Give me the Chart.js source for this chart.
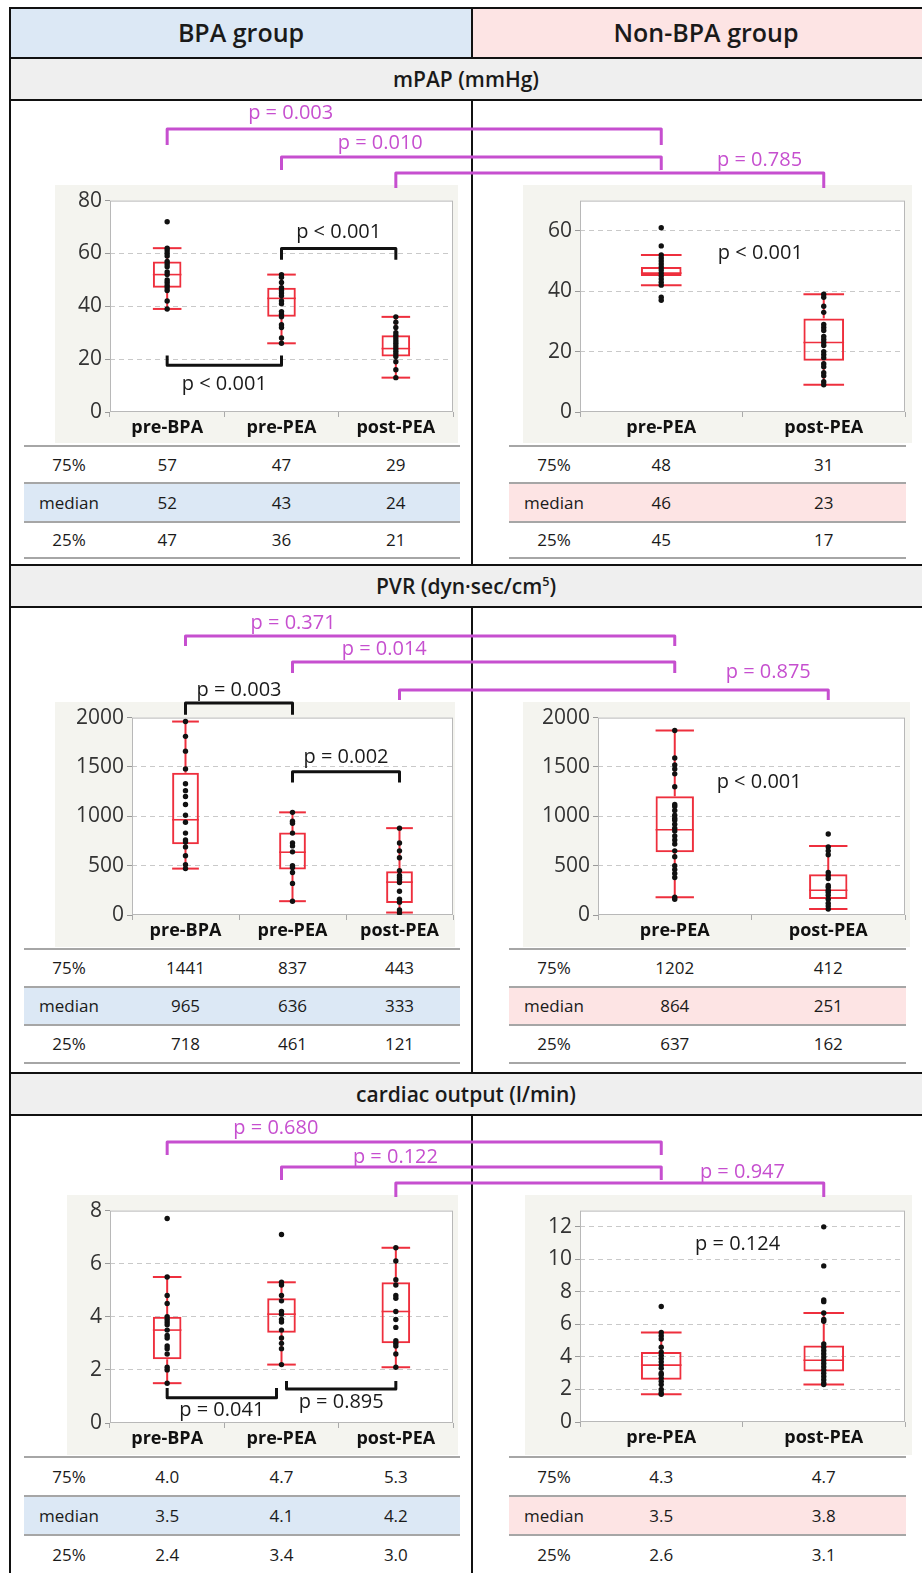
<!DOCTYPE html>
<html>
<head>
<meta charset="utf-8">
<script src="https://cdn.jsdelivr.net/npm/chart.js@4.4.1/dist/chart.umd.min.js"></script>
<style>
  body { margin: 0; width: 922px; height: 1573px; position: relative; overflow: hidden; background: #fff;
         font-family: "Open Sans", sans-serif; color: #1a1a1a; }
  sup { font-size: 0.6em; line-height: 0; }
</style>
</head>
<body>
<script>
// categories
const catBpa = ["pre-BPA", "pre-PEA", "post-PEA"];
const catNon = ["pre-PEA", "post-PEA"];
const rowLabels = ["75%", "median", "25%"];
const crossPairs = [[0, 0], [1, 0], [2, 1]];

// mPAP (mmHg)
const mpapBpaQ3 = [57, 47, 29];
const mpapBpaMed = [52, 43, 24];
const mpapBpaQ1 = [47, 36, 21];
const mpapBpaLo = [39, 26, 13];
const mpapBpaHi = [62, 52, 36];
const mpapBpaPts = [
  [72, 62, 61, 60, 59, 57, 56, 55, 53, 52, 50, 49, 48, 47, 46, 42, 39],
  [52, 51, 49, 47, 46, 45, 44, 42, 41, 38, 37, 36, 33, 32, 28, 26],
  [36, 34, 32, 30, 29, 28, 27, 26, 25, 24, 23, 22, 21, 19, 16, 13]
];
const mpapNonQ3 = [48, 31];
const mpapNonMed = [46, 23];
const mpapNonQ1 = [45, 17];
const mpapNonLo = [42, 9];
const mpapNonHi = [52, 39];
const mpapNonPts = [
  [61, 55, 52, 51, 50, 49, 48, 47, 46, 45, 44, 43, 42, 38, 37],
  [39, 38, 35, 33, 29, 28, 27, 25, 24, 23, 22, 20, 19, 18, 16, 15, 13, 12, 10, 9]
];
const mpapPCross = ["p = 0.003", "p = 0.010", "p = 0.785"];
const mpapPBpa = ["p < 0.001", "p < 0.001"];
const mpapPNon = "p < 0.001";

// PVR (dyn·sec/cm5)
const pvrBpaQ3 = [1441, 837, 443];
const pvrBpaMed = [965, 636, 333];
const pvrBpaQ1 = [718, 461, 121];
const pvrBpaLo = [470, 140, 25];
const pvrBpaHi = [1960, 1040, 880];
const pvrBpaPts = [
  [1960, 1810, 1660, 1480, 1330, 1260, 1200, 1120, 1010, 940, 830, 760, 740, 690, 600, 510, 470],
  [1040, 950, 930, 830, 730, 700, 640, 500, 480, 430, 320, 140],
  [880, 730, 650, 580, 450, 400, 380, 360, 330, 240, 160, 130, 50, 20]
];
const pvrNonQ3 = [1202, 412];
const pvrNonMed = [864, 251];
const pvrNonQ1 = [637, 162];
const pvrNonLo = [180, 60];
const pvrNonHi = [1870, 700];
const pvrNonPts = [
  [1870, 1590, 1520, 1480, 1430, 1300, 1120, 1100, 1060, 1010, 980, 960, 920, 880, 850, 800, 760, 720, 650, 590, 500, 460, 420, 380, 180, 160],
  [820, 690, 650, 610, 430, 400, 370, 300, 280, 250, 230, 200, 160, 120, 90, 60]
];
const pvrPCross = ["p = 0.371", "p = 0.014", "p = 0.875"];
const pvrPBpa = ["p = 0.003", "p = 0.002"];
const pvrPNon = "p < 0.001";

// cardiac output (l/min)
const coBpaQ3 = [4.0, 4.7, 5.3];
const coBpaMed = [3.5, 4.1, 4.2];
const coBpaQ1 = [2.4, 3.4, 3.0];
const coBpaLo = [1.5, 2.2, 2.1];
const coBpaHi = [5.5, 5.3, 6.6];
const coBpaPts = [
  [7.7, 5.5, 4.8, 4.5, 4.0, 3.9, 3.8, 3.7, 3.5, 3.3, 3.2, 2.9, 2.8, 2.6, 2.1, 2.0, 1.5],
  [7.1, 5.3, 5.2, 4.8, 4.6, 4.2, 4.1, 3.9, 3.8, 3.5, 3.2, 3.0, 2.8, 2.2],
  [6.6, 6.1, 5.4, 5.2, 4.8, 4.7, 4.2, 3.9, 3.6, 3.1, 3.0, 2.9, 2.6, 2.1]
];
const coNonQ3 = [4.3, 4.7];
const coNonMed = [3.5, 3.8];
const coNonQ1 = [2.6, 3.1];
const coNonLo = [1.7, 2.3];
const coNonHi = [5.5, 6.7];
const coNonPts = [
  [7.1, 5.5, 5.3, 5.1, 4.6, 4.3, 4.1, 3.9, 3.7, 3.5, 3.3, 3.0, 2.9, 2.7, 2.5, 2.3, 2.0, 1.8, 1.7],
  [12.0, 9.6, 7.5, 7.4, 6.7, 6.3, 6.2, 4.8, 4.6, 4.4, 4.2, 4.0, 3.8, 3.6, 3.4, 3.2, 3.0, 2.8, 2.6, 2.4, 2.3]
];
const coPCross = ["p = 0.680", "p = 0.122", "p = 0.947"];
const coPBpa = ["p = 0.041", "p = 0.895"];
const coPNon = "p = 0.124";

const RED = "#ee2f3d";
const MAG = "#c64fcf";
const BLUE = "#dce8f5";
const PINK = "#fde4e4";
Chart.defaults.font.family = '"Open Sans", sans-serif';

const page = document.body;
function el(css, html) {
  const d = document.createElement("div");
  d.style.cssText = "position:absolute;box-sizing:border-box;" + css;
  if (html !== undefined) d.innerHTML = html;
  page.appendChild(d);
  return d;
}

// layout of the three sections (pixels)
const secLayout = [
  { title: "mPAP (mmHg)", bar: [58, 100], end: 565,
    lp: [55, 185, 403, 258], lpad: [55, 8, 5, 31], yMaxL: 80, stepL: 20,
    rp: [523, 185, 389, 258], rpad: [57, 8, 7, 31], yMaxR: 70, stepR: 20,
    cross: [[129, 145, 113, 0.25], [157, 170, 143, 0.26], [173, 188, 160, 0.85]],
    inner: [[0, 1, 17.7, 21.4, 10.6, 0, 0], [1, 2, 61.9, 57.6, 68, 0, 0]], nonAt: [52.6, 0.61],
    tableTop: 446, rows: [37, 39, 36], dec: 0 },
  { title: "PVR (dyn·sec/cm<sup>5</sup>)", bar: [565, 607], end: 1073,
    lp: [55, 702, 400, 245], lpad: [77, 9, 2, 32], yMaxL: 2000, stepL: 500,
    rp: [523, 702, 387, 245], rpad: [75, 6, 5, 32], yMaxR: 2000, stepR: 500,
    cross: [[636, 646, 623, 0.22], [662, 673, 649, 0.24], [690, 700, 672, 0.86]],
    inner: [[0, 1, 2147, 2029, 2275, 0, 0], [1, 2, 1451, 1343, 1598, 0, 0]], nonAt: [1343, 0.55],
    tableTop: 949, rows: [38, 38, 38], dec: 0 },
  { title: "cardiac output (l/min)", bar: [1073, 1115], end: 1573,
    lp: [67, 1195, 391, 260], lpad: [43, 10, 5, 32], yMaxL: 8, stepL: 2,
    rp: [525, 1195, 387, 260], rpad: [55, 8, 7, 33], yMaxR: 13, stepR: 2,
    cross: [[1142, 1155, 1128, 0.22], [1167, 1180, 1157, 0.30], [1183, 1197, 1172, 0.81]],
    inner: [[0, 1, 0.95, 1.32, 0.48, 0, 5], [1, 2, 1.28, 1.58, 0.77, 5, 0]], nonAt: [10.9, 0.47],
    tableTop: 1457, rows: [39, 39, 40], dec: 1 }
];

const secData = [
  { bpa: [mpapBpaQ1, mpapBpaMed, mpapBpaQ3, mpapBpaLo, mpapBpaHi, mpapBpaPts],
    non: [mpapNonQ1, mpapNonMed, mpapNonQ3, mpapNonLo, mpapNonHi, mpapNonPts],
    pCross: mpapPCross, pBpa: mpapPBpa, pNon: mpapPNon },
  { bpa: [pvrBpaQ1, pvrBpaMed, pvrBpaQ3, pvrBpaLo, pvrBpaHi, pvrBpaPts],
    non: [pvrNonQ1, pvrNonMed, pvrNonQ3, pvrNonLo, pvrNonHi, pvrNonPts],
    pCross: pvrPCross, pBpa: pvrPBpa, pNon: pvrPNon },
  { bpa: [coBpaQ1, coBpaMed, coBpaQ3, coBpaLo, coBpaHi, coBpaPts],
    non: [coNonQ1, coNonMed, coNonQ3, coNonLo, coNonHi, coNonPts],
    pCross: coPCross, pBpa: coPBpa, pNon: coPNon }
];

// header row
el("left:10px;top:8px;width:462px;height:50px;background:" + BLUE + ";font-size:25px;font-weight:600;text-align:center;line-height:48px;", "BPA group");
el("left:472px;top:8px;width:468px;height:50px;background:" + PINK + ";font-size:25px;font-weight:600;text-align:center;line-height:48px;", "Non-BPA group");

function boxChart(rect, pad, cats, stats, yMax, yStep) {
  const [q1, med, q3, lo, hi, pts] = stats;
  const cv = document.createElement("canvas");
  cv.width = rect[2];
  cv.height = rect[3];
  cv.style.cssText = `position:absolute;left:${rect[0]}px;top:${rect[1]}px;background:#f4f4ef;`;
  page.appendChild(cv);
  const points = [];
  pts.forEach((arr, i) => arr.forEach(v => points.push({ x: cats[i], y: v })));
  return new Chart(cv, {
    type: "bar",
    data: {
      labels: cats,
      datasets: [
        { type: "bar", data: q1.map((v, i) => [v, q3[i]]), backgroundColor: "rgba(255,255,255,0)",
          borderColor: RED, borderWidth: 2, borderSkipped: false,
          barPercentage: 0.25, categoryPercentage: 1, order: 2 },
        { type: "line", data: points, showLine: false, pointRadius: 2.7,
          pointBackgroundColor: "#111", pointBorderWidth: 0, order: 1 }
      ]
    },
    options: {
      responsive: false,
      animation: false,
      layout: { autoPadding: false, padding: { left: 0, top: pad[1], right: pad[2], bottom: 0 } },
      plugins: { legend: { display: false }, tooltip: { enabled: false } },
      scales: {
        x: {
          grid: { offset: true, drawOnChartArea: false, drawTicks: true, tickLength: 5, color: "#aaa" },
          border: { display: false },
          ticks: { font: { size: 18, weight: "bold" }, color: "#111", padding: 0 },
          afterFit: s => { s.height = pad[3]; }
        },
        y: {
          min: 0, max: yMax,
          ticks: { font: { size: 21 }, color: "#333", padding: 3, callback: v => String(v) },
          afterBuildTicks: s => {
            const t = [];
            for (let v = 0; v <= yMax + 1e-9; v += yStep) t.push({ value: v });
            s.ticks = t;
          },
          grid: { color: c => (c.tick && c.tick.value > 0 && c.tick.value < yMax) ? "#c9c9c9" : "rgba(0,0,0,0)",
                  tickColor: "#999", tickLength: 5 },
          border: { display: false, dash: [5, 4] },
          afterFit: s => { s.width = pad[0]; }
        }
      }
    },
    plugins: [{
      id: "boxplot",
      beforeDraw(c) {
        const a = c.chartArea;
        c.ctx.save();
        c.ctx.fillStyle = "#fff";
        c.ctx.fillRect(a.left, a.top, a.right - a.left, a.bottom - a.top);
        c.ctx.restore();
      },
      beforeDatasetsDraw(c) {
        const a = c.chartArea, ctx = c.ctx, ys = c.scales.y;
        ctx.save();
        ctx.strokeStyle = "#b8b8b8";
        ctx.lineWidth = 1;
        ctx.strokeRect(a.left + 0.5, a.top + 0.5, a.right - a.left - 1, a.bottom - a.top - 1);
        ctx.strokeStyle = RED;
        ctx.lineWidth = 2;
        const seg = (x1, y1, x2, y2) => { ctx.beginPath(); ctx.moveTo(x1, y1); ctx.lineTo(x2, y2); ctx.stroke(); };
        c.getDatasetMeta(0).data.forEach((bar, i) => {
          const x = bar.x, hw = bar.width / 2;
          const yLo = ys.getPixelForValue(lo[i]), yHi = ys.getPixelForValue(hi[i]);
          const y1 = ys.getPixelForValue(q1[i]), y3 = ys.getPixelForValue(q3[i]), ym = ys.getPixelForValue(med[i]);
          seg(x, yHi, x, y3);
          seg(x, y1, x, yLo);
          seg(x - hw, yHi, x + hw, yHi);
          seg(x - hw, yLo, x + hw, yLo);
          ctx.lineWidth = 1.6;
          seg(x - hw, ym, x + hw, ym);
          ctx.lineWidth = 2;
        });
        ctx.restore();
      }
    }]
  });
}

const charts = [];
secLayout.forEach((L, s) => {
  const D = secData[s];
  // title bar
  el(`left:10px;top:${L.bar[0]}px;width:912px;height:${L.bar[1] - L.bar[0]}px;background:#efefef;font-size:21px;font-weight:600;text-align:center;line-height:${L.bar[1] - L.bar[0]}px;`, L.title);
  el(`left:10px;top:${L.bar[0] - 1}px;width:912px;height:2px;background:#111;`);
  el(`left:10px;top:${L.bar[1] - 1}px;width:912px;height:2px;background:#111;`);
  // divider
  el(`left:471px;top:${L.bar[1]}px;width:2px;height:${L.end - L.bar[1]}px;background:#111;`);
  const left = boxChart(L.lp, L.lpad, catBpa, D.bpa, L.yMaxL, L.stepL);
  const right = boxChart(L.rp, L.rpad, catNon, D.non, L.yMaxR, L.stepR);
  charts.push([left, right]);
});
// header divider and outer border
el("left:471px;top:8px;width:2px;height:50px;background:#111;");
el("left:9px;top:7px;width:2px;height:1566px;background:#111;");
el("left:9px;top:7px;width:913px;height:2px;background:#111;");

// overlay: brackets and p values
const ov = document.createElement("canvas");
ov.width = 922; ov.height = 1573;
ov.style.cssText = "position:absolute;left:0;top:0;z-index:10;pointer-events:none;";
page.appendChild(ov);
const g = ov.getContext("2d");
g.lineWidth = 3;
g.lineJoin = "round";
g.textAlign = "center";
g.textBaseline = "middle";
g.font = '20px "Open Sans", sans-serif';

const px = (ch, i) => ch.canvas.offsetLeft + ch.scales.x.getPixelForValue(i);
const py = (ch, v) => ch.canvas.offsetTop + ch.scales.y.getPixelForValue(v);
function bracket(x1, x2, yBar, yLeg) {
  g.beginPath();
  g.moveTo(x1, yLeg);
  g.lineTo(x1, yBar);
  g.lineTo(x2, yBar);
  g.lineTo(x2, yLeg);
  g.stroke();
}

secLayout.forEach((L, s) => {
  const D = secData[s];
  const [cl, cr] = charts[s];
  // between-group comparisons
  g.strokeStyle = MAG; g.fillStyle = MAG;
  L.cross.forEach((c, k) => {
    const x1 = px(cl, crossPairs[k][0]), x2 = px(cr, crossPairs[k][1]);
    bracket(x1, x2, c[0], c[1]);
    g.fillText(D.pCross[k], x1 + (x2 - x1) * c[3], c[2]);
  });
  // within BPA group
  g.strokeStyle = "#111"; g.fillStyle = "#1a1a1a";
  L.inner.forEach((b, k) => {
    const x1 = px(cl, b[0]) + b[5], x2 = px(cl, b[1]) - b[6];
    bracket(x1, x2, py(cl, b[2]), py(cl, b[3]));
    g.fillText(D.pBpa[k], (x1 + x2) / 2, py(cl, b[4]));
  });
  // within non-BPA group
  const xa = px(cr, 0), xb = px(cr, 1);
  g.fillText(D.pNon, xa + (xb - xa) * L.nonAt[1], py(cr, L.nonAt[0]));

  // tables
  const tables = [[cl, D.bpa, 24, 460, BLUE], [cr, D.non, 509, 906, PINK]];
  tables.forEach(([ch, st, x0, x1, col]) => {
    let y = L.tableTop;
    const vals = [st[2], st[1], st[0]];
    L.rows.forEach((h, r) => {
      if (r === 1) el(`left:${x0}px;top:${y}px;width:${x1 - x0}px;height:${h}px;background:${col};`);
      el(`left:${x0}px;top:${y + h / 2 - 13}px;width:90px;height:26px;font-size:17px;line-height:26px;text-align:center;`, rowLabels[r]);
      vals[r].forEach((v, i) => {
        const cx = px(ch, i);
        el(`left:${cx - 40}px;top:${y + h / 2 - 13}px;width:80px;height:26px;font-size:17px;line-height:26px;text-align:center;`, v.toFixed(L.dec));
      });
      y += h;
    });
    let yl = L.tableTop;
    [0].concat(L.rows).forEach(h => {
      yl += h;
      el(`left:${x0}px;top:${yl - 1}px;width:${x1 - x0}px;height:2px;background:#a6a6a6;`);
    });
  });
});
</script>
</body>
</html>
